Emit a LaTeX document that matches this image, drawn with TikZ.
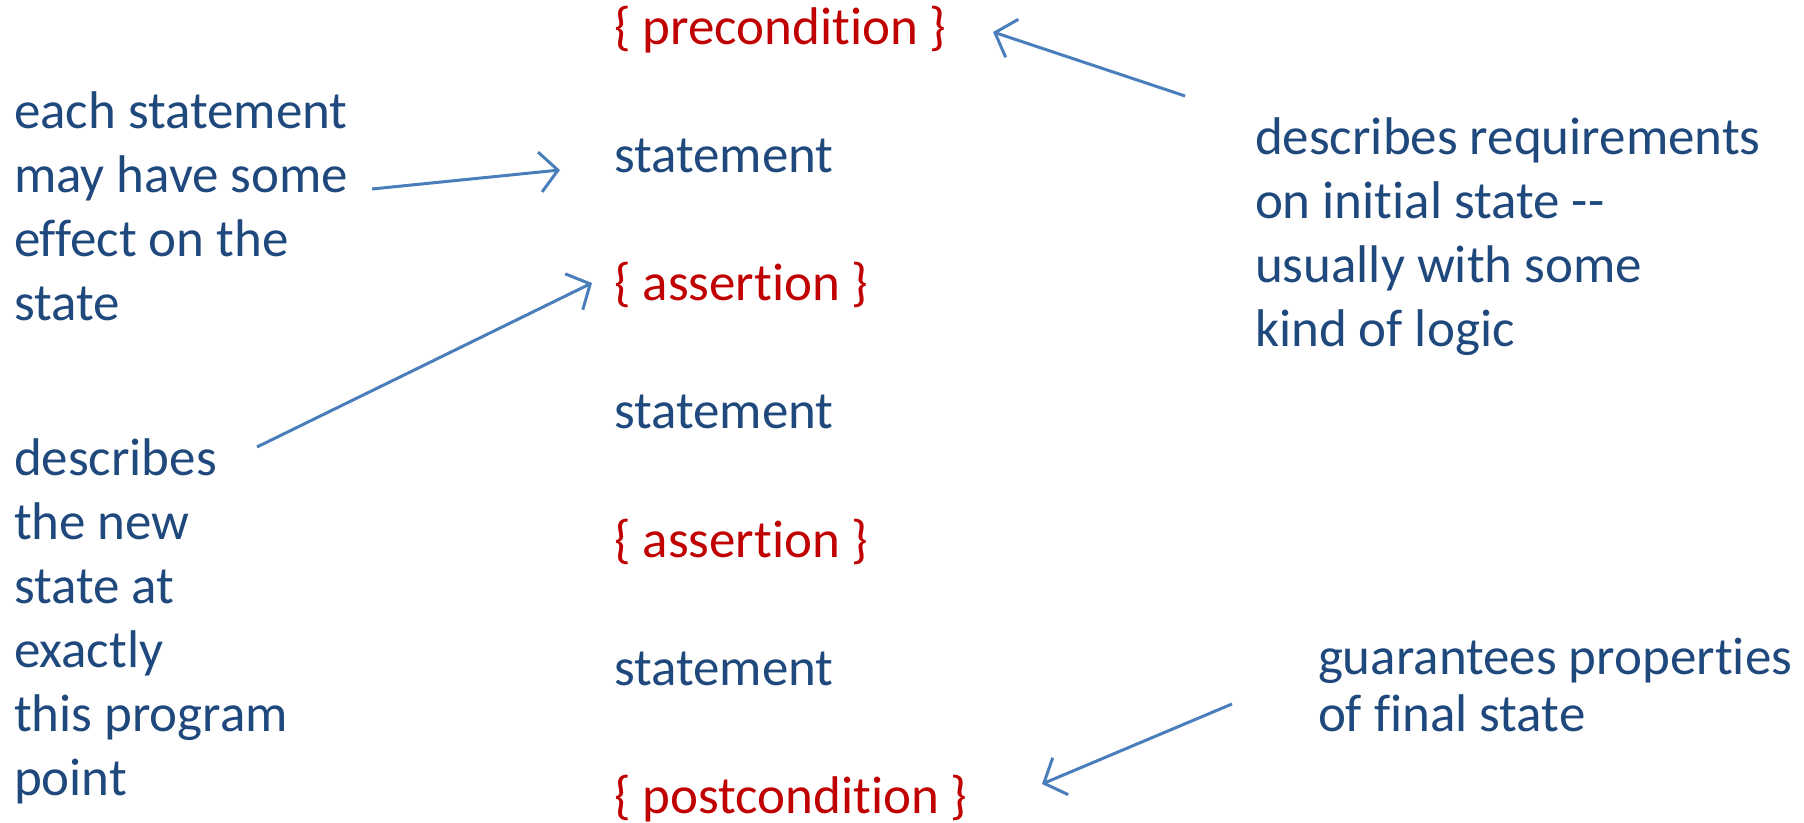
\documentclass[tikz,border=0pt]{standalone}
\usepackage{fontspec}
\setmainfont{Carlito}[Ligatures={NoCommon}]
\usetikzlibrary{arrows.meta}
\definecolor{txtblue}{HTML}{1F497D}
\definecolor{txtred}{HTML}{C00000}
\definecolor{arrblue}{HTML}{4A7EBB}
\tikzset{
  lbl/.style={anchor=base west, inner sep=0pt, outer sep=0pt, align=left,
    text=txtblue, font=\fontsize{26.5pt}{32pt}\selectfont},
  cond/.style={lbl, text=txtred},
  pointer/.style={draw=arrblue, line width=1.5pt,
    -{Straight Barb[length=9pt,width=20pt,line width=1.5pt]}}
}
\begin{document}
\begin{tikzpicture}[x=0.5pt,y=-0.5pt]
\useasboundingbox (0,0) rectangle (1804,823);
% center column
\node[cond] (pre) at (614,45) {\{ precondition \}};
\node[lbl]  (s1)  at (614,173) {statement};
\node[cond] (a1)  at (614,301) {\{ assertion \}};
\node[lbl]  (s2)  at (614,429) {statement};
\node[cond] (a2)  at (614,557) {\{ assertion \}};
\node[lbl]  (s3)  at (614,685) {statement};
\node[cond] (post) at (614,813) {\{ postcondition \}};
% side texts (base anchor = baseline of last line)
\node[lbl] (eff) at (14,321) {each statement\\may have some\\effect on the\\state};
\node[lbl] (newst) at (14,795) {describes\\the new\\state at\\exactly\\this program\\point};
\node[lbl] (req) at (1255,347) {describes requirements\\on initial state -{}-\\usually with some\\kind of logic};
\node[lbl, font=\fontsize{26.5pt}{28.5pt}\selectfont] (guar) at (1318,731) {guarantees properties\\of final state};
% arrow ends
\coordinate (effT) at (372,189);
\coordinate (effH) at (560,170);
\coordinate (newT) at (257,447);
\coordinate (newH) at (592,283);
\coordinate (reqT) at (1185,96);
\coordinate (reqH) at (993,32);
\coordinate (guaT) at (1232,704);
\coordinate (guaH) at (1042,784);
\draw[pointer] (effT) -- (effH);
\draw[pointer] (newT) -- (newH);
\draw[pointer] (reqT) -- (reqH);
\draw[pointer] (guaT) -- (guaH);
\end{tikzpicture}
\end{document}
